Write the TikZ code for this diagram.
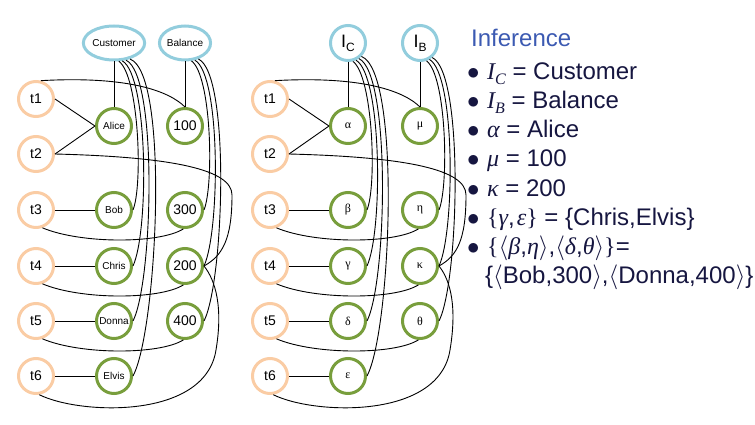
\documentclass[tikz,border=0pt]{standalone}
\usepackage{fontspec}
\setmainfont{Liberation Sans}
\newfontfamily\tms{Liberation Serif}
\usetikzlibrary{shapes.geometric}
\definecolor{peach}{RGB}{250,204,164}
\definecolor{olivegr}{RGB}{120,158,60}
\definecolor{skyb}{RGB}{146,205,221}
\definecolor{navy}{RGB}{22,22,64}
\definecolor{headblue}{RGB}{60,90,178}
\newcommand{\fs}[1]{\fontsize{#1}{#1}\selectfont}
\newcommand{\mi}[1]{{\tms\itshape #1}}
\newcommand{\bul}{\makebox[18pt][l]{\hspace{-2pt}$\bullet$}}
\newcommand{\drawedges}[1]{%
  \draw[cn] (#1a.south) -- (#1c1.north);
  \draw[cn] (#1b.south) -- (#1v1.north);
  \draw[cn] (#1t1.east) -- (#1c1.west);
  \draw[cn] (#1t2.east) -- (#1c1.west);
  \draw[cn] (#1t3.east) -- (#1c2.west);
  \draw[cn] (#1t4.east) -- (#1c3.west);
  \draw[cn] (#1t5.east) -- (#1c4.west);
  \draw[cn] (#1t6.east) -- (#1c5.west);
  \draw[cn] (#1a.-75) .. controls +(20,15) and +(10,-25) .. (#1c2.east);
  \draw[cn] (#1a.-65) .. controls +(26,15) and +(16,-35) .. (#1c3.east);
  \draw[cn] (#1a.-55) .. controls +(32,15) and +(20,-40) .. (#1c4.east);
  \draw[cn] (#1a.-45) .. controls +(40,15) and +(24,-45) .. (#1c5.east);
  \draw[cn] (#1b.-70) .. controls +(20,15) and +(10,-25) .. (#1v2.east);
  \draw[cn] (#1b.-60) .. controls +(26,15) and +(16,-35) .. (#1v3.east);
  \draw[cn] (#1b.-50) .. controls +(32,15) and +(20,-40) .. (#1v4.east);
  \draw[cn] (#1t1.75) .. controls +(90,-5) and +(-15,-15) .. (#1v1.north);
  \draw[cn] (#1t2.east) .. controls +(120,3) and +(0,-25) .. (232,195)
            .. controls +(0,45) and +(18,-10) .. (#1v3.east);
  \draw[cn] (#1t3.-70) .. controls +(38,16) and +(-24,15) .. (#1v2.-95);
  \draw[cn] (#1t4.-70) .. controls +(38,16) and +(-24,15) .. (#1v3.-95);
  \draw[cn] (#1t5.-70) .. controls +(38,16) and +(-24,15) .. (#1v4.-95);
  \draw[cn] (#1t6.-80) .. controls +(40,20) and +(-11,70) .. (216,350)
            .. controls +(7,-42) and +(12,15) .. (#1v3.east);
}
\begin{document}
\begin{tikzpicture}[x=1pt,y=-1pt,
  tn/.style={circle,draw=peach,line width=3pt,minimum size=35pt,inner sep=0pt,font=\fs{14}},
  vn/.style={circle,draw=olivegr,line width=3pt,minimum size=35pt,inner sep=0pt},
  an/.style={ellipse,draw=skyb,line width=3pt,inner sep=0pt,minimum height=34pt,font=\fs{10}},
  ac/.style={circle,draw=skyb,line width=3pt,minimum size=35pt,inner sep=0pt},
  cn/.style={line width=0.9pt,black},
  nm/.style={font=\fs{10}},
  nu/.style={font=\fs{14}},
  gk/.style={font=\tms\fs{12}},
  lst/.style={anchor=base west,inner sep=0pt,text=navy,font=\fs{24}}
]
\useasboundingbox (0,0) rectangle (755,425);
% left graph
\node[an,minimum width=51pt] (La) at (114,43) {Customer};
\node[an,minimum width=45pt] (Lb) at (185,43) {Balance};
\foreach \i/\y in {1/99,2/154,3/210,4/266,5/321,6/376}
  \node[tn] (Lt\i) at (36,\y) {t\i};
\node[vn,nm] (Lc1) at (114,126) {Alice};
\node[vn,nm] (Lc2) at (114,210) {Bob};
\node[vn,nm] (Lc3) at (114,266) {Chris};
\node[vn,nm] (Lc4) at (114,321) {Donna};
\node[vn,nm] (Lc5) at (114,376) {Elvis};
\node[vn,nu] (Lv1) at (185,126) {100};
\node[vn,nu] (Lv2) at (185,210) {300};
\node[vn,nu] (Lv3) at (185,266) {200};
\node[vn,nu] (Lv4) at (185,321) {400};
\drawedges{L}
% right graph
\begin{scope}[xshift=234]
\node[ac] (Ra) at (114,43) {\fs{18}I\raisebox{-4pt}{\fs{12}C}};
\node[ac] (Rb) at (186,43) {\fs{18}I\raisebox{-4pt}{\fs{12}B}};
\foreach \i/\y in {1/99,2/154,3/210,4/266,5/321,6/376}
  \node[tn] (Rt\i) at (36,\y) {t\i};
\node[vn,gk] (Rc1) at (114,126) {α};
\node[vn,gk] (Rc2) at (114,210) {β};
\node[vn,gk] (Rc3) at (114,266) {γ};
\node[vn,gk] (Rc4) at (114,321) {δ};
\node[vn,gk] (Rc5) at (114,376) {ε};
\node[vn,gk] (Rv1) at (186,126) {μ};
\node[vn,gk] (Rv2) at (186,210) {η};
\node[vn,gk] (Rv3) at (186,266) {κ};
\node[vn,gk] (Rv4) at (186,321) {θ};
\drawedges{R}
\end{scope}
% inference text
\node[lst,text=headblue] (h) at (471,47) {Inference};
\node[lst] (l1) at (469,80) {\bul\mi{I}\raisebox{-5pt}{\fs{16}\mi{C}} = Customer};
\node[lst] (l2) at (469,109) {\bul\mi{I}\raisebox{-5pt}{\fs{16}\mi{B}} = Balance};
\node[lst] (l3) at (469,138) {\bul\mi{α} = Alice};
\node[lst] (l4) at (469,167) {\bul\mi{μ} = 100};
\node[lst] (l5) at (469,196) {\bul\mi{κ} = 200};
\node[lst] (l6) at (469,225) {\bul{\tms\{}\mi{γ},\kern2pt\mi{ε}{\tms\}} = \{Chris,Elvis\}};
\node[lst] (l7) at (469,254) {\bul{\tms\{}$\langle$\mi{β},\mi{η}$\rangle$,$\langle$\mi{δ},\mi{θ}$\rangle${\tms\}}=};
\node[lst] (l8) at (485,283) {\{$\langle$Bob,300$\rangle$,$\langle$Donna,400$\rangle$\}};
\end{tikzpicture}
\end{document}
